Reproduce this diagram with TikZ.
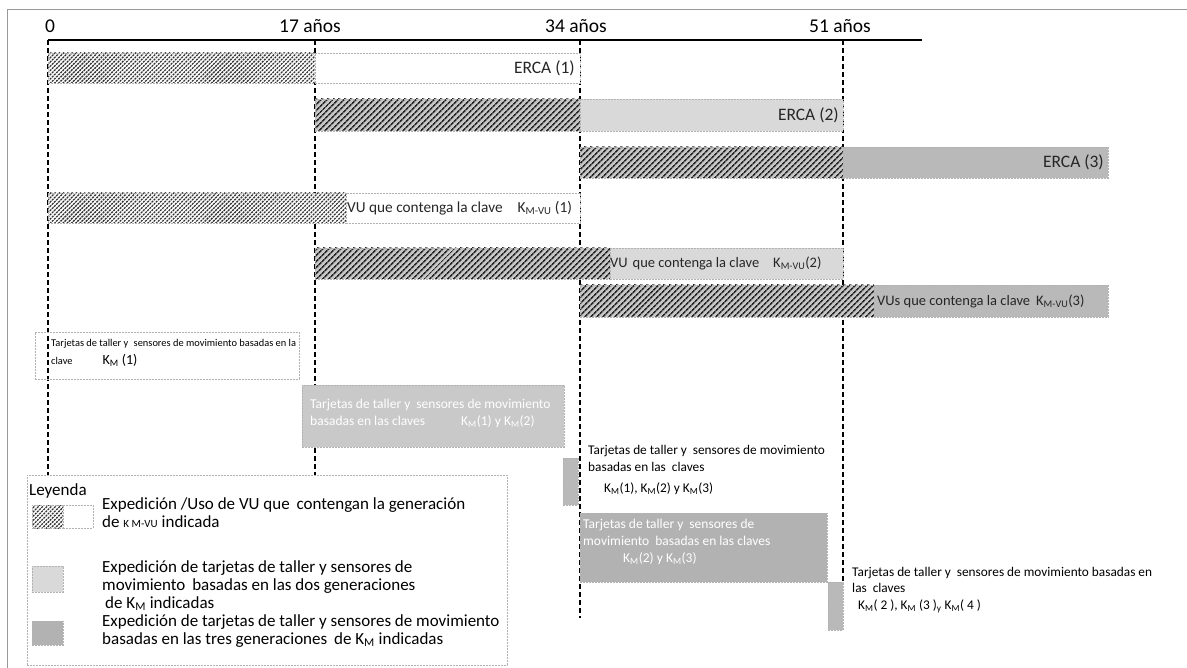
\documentclass[tikz,border=0pt]{standalone}
\usepackage{fontspec}
\setmainfont{Carlito}
\usetikzlibrary{patterns.meta,fit}

\definecolor{frameGray}{gray}{0.6}

\begin{document}
\begin{tikzpicture}[x=1pt,y=-1pt,
  guide/.style={black, line width=1.2pt, dash pattern=on 5pt off 3pt},
  axisline/.style={black, line width=1.6pt},
  seg/.style={inner sep=0pt, outer sep=0pt, draw=gray!60, line width=0.6pt, dash pattern=on 2pt off 1pt},
  hatchseg/.style={seg, preaction={fill=white}, pattern={Lines[angle=45,distance=3pt,line width=1.3pt]}, pattern color=black!80},
  darkhatch/.style={seg, preaction={fill=gray!45}, pattern={Lines[angle=45,distance=4pt,line width=1.7pt]}, pattern color=black!85},
  openseg/.style={seg, fill=white},
  lightseg/.style={seg, fill=gray!30},
  midseg/.style={seg, fill=gray!55},
  darkbox/.style={seg, fill=gray!60},
  greybox/.style={seg, fill=gray!42},
  ticklabel/.style={inner sep=0pt, anchor=base, font=\fontsize{19.5}{22}\selectfont},
  barlabel/.style={inner sep=0pt, anchor=east, font=\fontsize{17.5}{20}\selectfont, text=black!85},
  vulabel/.style={inner sep=0pt, anchor=west, font=\fontsize{15.3}{17}\selectfont, text=black!85},
  notetext/.style={inner sep=0pt, anchor=north west, align=left, font=\fontsize{13.3}{17}\selectfont},
  whitetext/.style={inner sep=0pt, anchor=north west, align=left, font=\fontsize{13.5}{17}\selectfont, text=white},
  legendtext/.style={inner sep=0pt, anchor=north west, align=left, font=\fontsize{17}{18}\selectfont}
]
\useasboundingbox (0,0) rectangle (1187,668);

% outer frame (top and left edges)
\coordinate (fbl) at (7,668);
\coordinate (ftl) at (7,10);
\coordinate (ftr) at (1187,10);
\draw[frameGray, line width=1pt] (fbl) -- (ftl) -- (ftr);

% time axis
\coordinate (t0) at (48,40);
\coordinate (t17) at (315,40);
\coordinate (t34) at (580,40);
\coordinate (t51) at (843,40);
\coordinate (axend) at (922,40);
\draw[axisline] (t0) -- (axend);
\node (l0) [ticklabel] at (50,33) {0};
\node (l17) [ticklabel] at (310,33) {17 años};
\node (l34) [ticklabel] at (576,33) {34 años};
\node (l51) [ticklabel] at (840,33) {51 años};

% vertical guides
\coordinate (b0) at (48,475);
\coordinate (b17) at (315,475);
\coordinate (b34) at (580,618);
\coordinate (b51) at (843,582);
\draw[guide] (t0) -- (b0);
\draw[guide] (t17) -- (b17);
\draw[guide] (t34) -- (b34);
\draw[guide] (t51) -- (b51);

% ERCA bars
\node (e1a) [hatchseg, fit={(48,53)(315,83)}] {};
\node (e1b) [openseg, fit={(315,53)(580,83)}] {};
\node (e1t) [barlabel] at ([xshift=-5pt]e1b.east) {ERCA (1)};

\node (e2a) [darkhatch, fit={(315,99)(580,131)}] {};
\node (e2b) [lightseg, fit={(580,99)(843,131)}] {};
\node (e2t) [barlabel] at ([xshift=-4pt]e2b.east) {ERCA (2)};

\node (e3a) [darkhatch, fit={(580,147)(843,178)}] {};
\node (e3b) [midseg, fit={(843,147)(1108,178)}] {};
\node (e3t) [barlabel] at ([xshift=-4pt]e3b.east) {ERCA (3)};

% VU bars
\node (v1a) [hatchseg, fit={(48,193)(346,223)}] {};
\node (v1b) [openseg, fit={(346,193)(580,223)}] {};
\node (v1t) [vulabel] at ([xshift=1pt]v1b.west) {VU que contenga la clave\hspace{15pt}K\textsubscript{M-VU} (1)};

\node (v2a) [darkhatch, fit={(315,248)(610,279)}] {};
\node (v2b) [lightseg, fit={(610,248)(843,279)}] {};
\node (v2t) [vulabel, font=\fontsize{14.5}{17}\selectfont] at ([xshift=0pt]v2b.west) {VU\hspace{5pt}que contenga la clave\hspace{14pt}K\textsubscript{M-VU}(2)};

\node (v3a) [darkhatch, fit={(580,285)(874,317)}] {};
\node (v3b) [midseg, fit={(874,285)(1108,317)}] {};
\node (v3t) [vulabel, font=\fontsize{14.5}{17}\selectfont] at ([xshift=3pt]v3b.west) {VUs que contenga la clave\hspace{6pt}K\textsubscript{M-VU}(3)};

% workshop cards and motion sensors
\node (k1) [seg, fit={(35,332)(299,379)}] {};
\node (k1t) [inner sep=0pt, anchor=north west, align=left, font=\fontsize{10.4}{18}\selectfont]
  at (51,339) {Tarjetas de taller y\hspace{3pt} sensores de movimiento basadas en la\\
  clave\hspace{30pt}{\fontsize{14}{15}\selectfont K\textsubscript{M} (1)}};

\node (k12) [greybox, fit={(302,385)(564,447)}] {};
\node (k12t) [whitetext] at (310,399) {Tarjetas de taller y\hspace{3pt} sensores de movimiento\\
  basadas en las claves\hspace{36pt}K\textsubscript{M}(1) y K\textsubscript{M}(2)};

\node (k123) [midseg, fit={(563,458)(578,505)}] {};
\node (k123t) [notetext] at (588,445) {Tarjetas de taller y\hspace{3pt} sensores de movimiento\\
  basadas en las\hspace{3pt} claves\\[4pt]
  \hspace{16pt}K\textsubscript{M}(1), K\textsubscript{M}(2) y K\textsubscript{M}(3)};

\node (k23) [darkbox, fit={(580,513)(827,582)}] {};
\node (k23t) [whitetext] at (583,519) {Tarjetas de taller y\hspace{3pt} sensores de\\
  movimiento\hspace{3pt} basadas en las claves\\
  \hspace{40pt}K\textsubscript{M}(2) y K\textsubscript{M}(3)};

\node (k234) [midseg, fit={(828,582)(843,630)}] {};
\node (k234t) [notetext, font=\fontsize{13.3}{16.5}\selectfont] at (852,567) {Tarjetas de taller y\hspace{3pt} sensores de movimiento basadas en\\
  las\hspace{3pt} claves\\
  \hspace{6pt}K\textsubscript{M}( 2 ), K\textsubscript{M} (3 )\textsubscript{y} K\textsubscript{M}( 4 )};

% legend
\node (leg) [seg, fit={(27,475)(507,665)}] {};
\node (legt) [legendtext] at (29,483) {Leyenda};
\node (s1a) [hatchseg, fit={(32,505)(63,528)}] {};
\node (s1b) [openseg, fit={(63,505)(93,528)}] {};
\node (s1t) [legendtext] at (102,497) {Expedición /Uso de VU que\hspace{3pt} contengan la generación\\
  de {\fontsize{11}{12}\selectfont K M-VU}\hspace{4pt}indicada};
\node (s2) [lightseg, fit={(32,566)(63,592)}] {};
\node (s2t) [legendtext] at (102,560) {Expedición de tarjetas de taller y sensores de\\
  movimiento\hspace{3pt} basadas en las dos generaciones\\
  \hspace{3pt}de K\textsubscript{M} indicadas};
\node (s3) [darkbox, fit={(32,621)(63,645)}] {};
\node (s3t) [legendtext] at (102,614) {Expedición de tarjetas de taller y sensores de movimiento\\
  basadas en las tres generaciones\hspace{3pt} de K\textsubscript{M} indicadas};
\end{tikzpicture}
\end{document}
